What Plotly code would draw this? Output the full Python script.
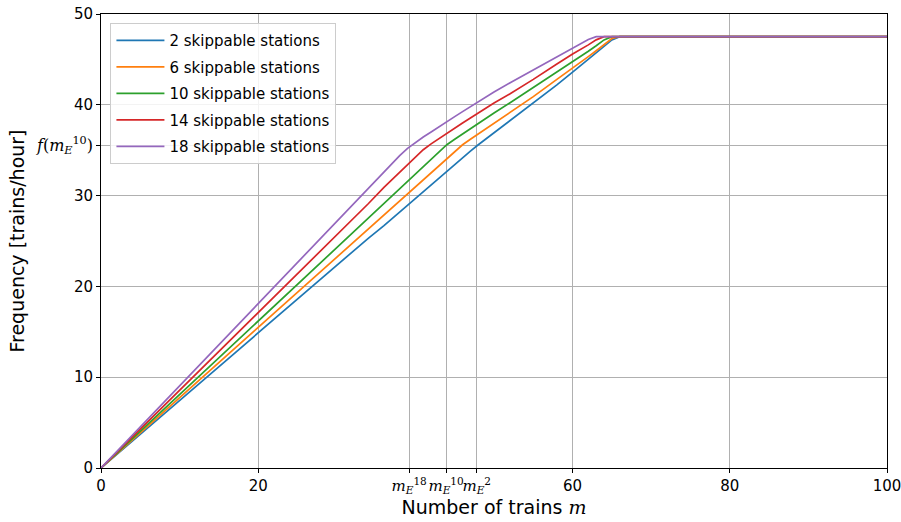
import plotly.graph_objects as go

# Number of trains m (sample points)
m_vals = [0, 20, 34, 36, 38, 39, 40, 41, 42, 43, 44, 45, 46, 47, 48, 50, 52, 55, 58, 60, 62, 63, 64, 65, 66, 100]

# Frequency [trains/hour] per number of skippable stations
f_2 = [0, 14.9, 25.3, 26.7, 28.2, 29.0, 29.7, 30.5, 31.2, 31.9, 32.7, 33.4, 34.2, 34.9, 35.6, 36.9, 38.2, 40.2, 42.2, 43.6, 45.0, 45.7, 46.4, 47.15, 47.5, 47.5]
f_6 = [0, 15.5, 26.4, 27.9, 29.5, 30.2, 31.0, 31.8, 32.6, 33.3, 34.1, 34.9, 35.6, 36.2, 36.8, 38.0, 39.2, 40.9, 42.8, 44.0, 45.3, 45.95, 46.6, 47.3, 47.5, 47.5]
f_10 = [0, 16.2, 27.5, 29.2, 30.8, 31.6, 32.4, 33.2, 34.0, 34.8, 35.6, 36.2, 36.8, 37.4, 38.0, 39.1, 40.2, 41.9, 43.6, 44.7, 45.9, 46.5, 47.15, 47.5, 47.5, 47.5]
f_14 = [0, 17.1, 29.1, 30.9, 32.6, 33.4, 34.3, 35.05, 35.7, 36.3, 36.9, 37.45, 38.0, 38.55, 39.1, 40.2, 41.2, 42.8, 44.5, 45.6, 46.6, 47.15, 47.5, 47.5, 47.5, 47.5]
f_18 = [0, 18.1, 30.8, 32.6, 34.4, 35.2, 35.85, 36.45, 37.0, 37.6, 38.15, 38.7, 39.25, 39.8, 40.35, 41.4, 42.4, 43.85, 45.3, 46.3, 47.2, 47.5, 47.5, 47.5, 47.5, 47.5]

series_names = ["2 skippable stations", "6 skippable stations", "10 skippable stations",
                "14 skippable stations", "18 skippable stations"]
series_vals = [f_2, f_6, f_10, f_14, f_18]
colors = ["#1f77b4", "#ff7f0e", "#2ca02c", "#d62728", "#9467bd"]

# Tick positions / labels
x_tickvals = [0, 20, 39.2, 43.9, 47.8, 60, 80, 100]
x_ticktext = ["0", "20",
              "<span style='font-family:DejaVu Serif'><i>m</i><sub><i>E</i></sub><sup>18</sup></span>",
              "<span style='font-family:DejaVu Serif'><i>m</i><sub><i>E</i></sub><sup>10</sup></span>",
              "<span style='font-family:DejaVu Serif'><i>m</i><sub><i>E</i></sub><sup>2</sup></span>",
              "60", "80", "100"]
y_tickvals = [0, 10, 20, 30, 35.5, 40, 50]
y_ticktext = ["0", "10", "20", "30",
              "<span style='font-family:DejaVu Serif;font-size:16px'><i>f</i>(<i>m</i><sub><i>E</i></sub><sup>10</sup>)</span>",
              "40", "50"]

fig = go.Figure()
for i, (name, vals, c) in enumerate(zip(series_names, series_vals, colors)):
    fig.add_trace(go.Scatter(x=m_vals, y=vals, mode="lines", name=name,
                             legendgroup="g%d" % i,
                             line=dict(color=c, width=1.7)))

axis_common = dict(showline=True, linecolor="black", linewidth=1, mirror=True,
                   ticks="outside", ticklen=4, tickcolor="black",
                   showgrid=True, gridcolor="#b0b0b0", gridwidth=1, zeroline=False,
                   automargin=False, tickangle=0, ticklabeloverflow="allow",
                   tickfont=dict(size=15, color="black", family="DejaVu Sans"))

fig.update_layout(
    width=901, height=522,
    margin=dict(l=101, r=14, t=14, b=54),
    plot_bgcolor="white", paper_bgcolor="white",
    font=dict(family="DejaVu Sans", color="black"),
    xaxis=dict(range=[0, 100], tickmode="array", tickvals=x_tickvals, ticktext=x_ticktext,
               title=dict(text="Number of trains <span style='font-family:DejaVu Serif'><i>m</i></span>",
                          font=dict(size=19), standoff=2),
               **axis_common),
    yaxis=dict(range=[0, 50], tickmode="array", tickvals=y_tickvals, ticktext=y_ticktext,
               title=dict(text="Frequency [trains/hour]", font=dict(size=19), standoff=6),
               **axis_common),
    legend=dict(x=0.012, y=0.98, xanchor="left", yanchor="top",
                bgcolor="rgba(255,255,255,0.85)", bordercolor="#cccccc", borderwidth=1,
                tracegroupgap=4, itemwidth=48,
                font=dict(size=15, color="black")),
    showlegend=True,
)

fig.write_html("out.html", config={"displayModeBar": False},
               post_script="document.body.style.margin='0';document.body.style.overflow='hidden';")
